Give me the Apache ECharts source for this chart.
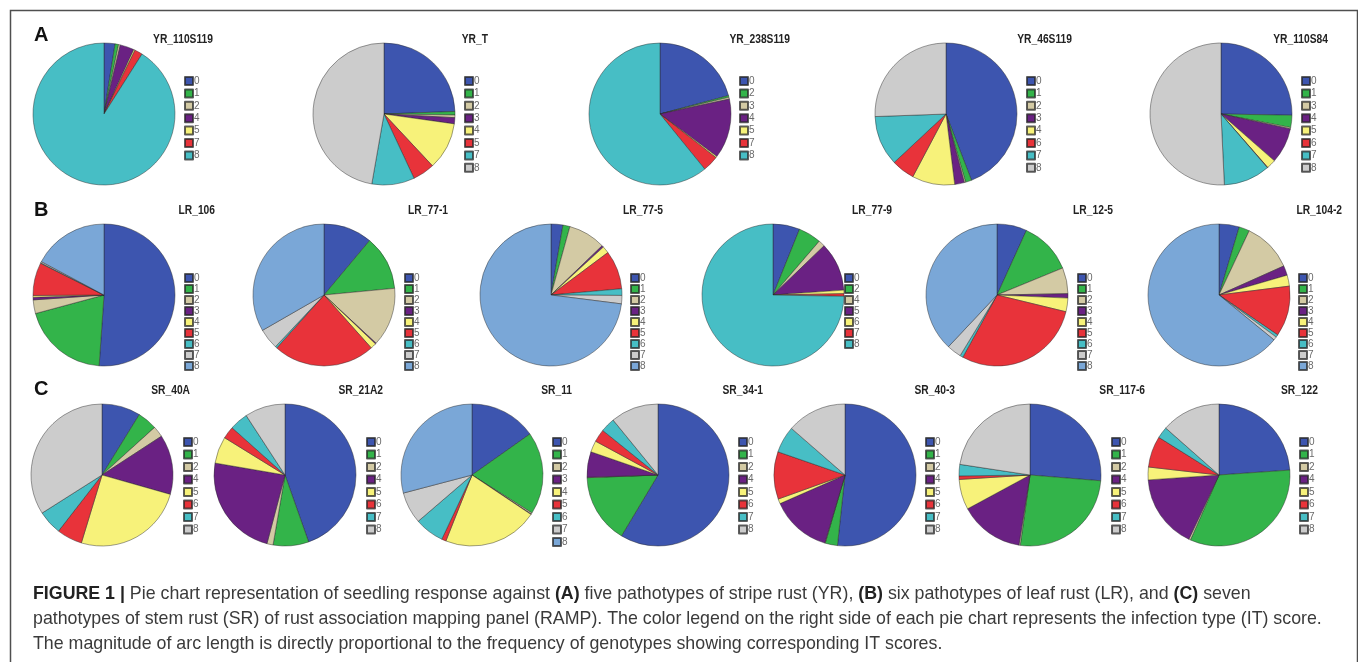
<!DOCTYPE html>
<html>
<head>
<meta charset="utf-8">
<title>Figure 1 - seedling response pie charts</title>
<script src="https://cdn.jsdelivr.net/npm/echarts@6/dist/echarts.min.js"></script>
<style>
  html, body { margin: 0; padding: 0; background: #fff; }
  #chart { width: 1358px; height: 662px; }
</style>
</head>
<body>
<div id="chart"></div>
<script>
// colours follow the position of the score in each legend
const itColors = ['#3D55AF', '#33B44A', '#D3CAA4', '#6A2183', '#F7F27A', '#E8333A', '#47BEC5', '#CCCCCC', '#7AA7D7'];

// (A) stripe rust
const yrNames = ['YR_110S119', 'YR_T', 'YR_238S119', 'YR_46S119', 'YR_110S84'];
const yrScores = [
  ['0', '1', '2', '4', '5', '7', '8'],
  ['0', '1', '2', '3', '4', '5', '7', '8'],
  ['0', '2', '3', '4', '5', '7', '8'],
  ['0', '1', '2', '3', '4', '6', '7', '8'],
  ['0', '1', '3', '4', '5', '6', '7', '8']
];
const yrValues = [
  [2.5, 0.8, 0.4, 3.2, 0.3, 1.8, 91.0],
  [24.4, 0.8, 0.6, 1.4, 10.8, 5.0, 9.7, 47.2],
  [20.8, 0.4, 0.4, 13.6, 0.3, 3.6, 60.8],
  [44.2, 1.4, 0.3, 2.2, 9.7, 5.3, 11.4, 25.6],
  [25.3, 2.8, 0.3, 8.1, 2.1, 0.1, 10.6, 50.8]
];

// (B) leaf rust
const lrNames = ['LR_106', 'LR_77-1', 'LR_77-5', 'LR_77-9', 'LR_12-5', 'LR_104-2'];
const lrScores = [
  ['0', '1', '2', '3', '4', '5', '6', '7', '8'],
  ['0', '1', '2', '3', '4', '5', '6', '7', '8'],
  ['0', '1', '2', '3', '4', '5', '6', '7', '8'],
  ['0', '2', '4', '5', '6', '7', '8'],
  ['0', '1', '2', '3', '4', '5', '6', '7', '8'],
  ['0', '1', '2', '3', '4', '5', '6', '7', '8']
];
const lrValues = [
  [51.1, 19.7, 3.1, 0.6, 0.4, 7.5, 0.1, 0.3, 17.2],
  [11.1, 12.4, 13.4, 0.2, 1.3, 23.2, 0.4, 4.7, 33.3],
  [2.7, 1.6, 8.5, 0.4, 1.6, 8.8, 1.5, 1.9, 73.0],
  [6.1, 5.2, 1.5, 11.1, 0.8, 0.6, 74.7],
  [6.8, 12.0, 5.9, 1.0, 3.1, 29.2, 0.7, 3.3, 38.0],
  [4.6, 2.4, 11.3, 2.2, 2.5, 11.5, 0.6, 0.8, 64.1]
];

// (C) stem rust
const srNames = ['SR_40A', 'SR_21A2', 'SR_11', 'SR_34-1', 'SR_40-3', 'SR_117-6', 'SR_122'];
const srScores = [
  ['0', '1', '2', '4', '5', '6', '7', '8'],
  ['0', '1', '2', '4', '5', '6', '7', '8'],
  ['0', '1', '2', '3', '4', '5', '6', '7', '8'],
  ['0', '1', '2', '4', '5', '6', '7', '8'],
  ['0', '1', '2', '4', '5', '6', '7', '8'],
  ['0', '1', '2', '4', '5', '6', '7', '8'],
  ['0', '1', '2', '4', '5', '6', '7', '8']
];
const srValues = [
  [8.8, 4.5, 2.5, 13.6, 25.3, 5.8, 5.5, 34.0],
  [44.6, 8.1, 1.4, 23.6, 6.1, 2.8, 4.2, 9.2],
  [15.2, 18.8, 0.3, 0.1, 21.6, 1.0, 6.7, 7.2, 29.1],
  [58.6, 15.8, 0.1, 5.8, 2.6, 2.9, 3.3, 10.9],
  [51.7, 2.8, 0.1, 13.8, 1.1, 10.8, 6.1, 13.6],
  [26.3, 25.9, 0.3, 14.6, 6.9, 0.8, 2.6, 22.6],
  [23.9, 32.7, 0.4, 16.9, 2.9, 7.1, 2.6, 13.5]
];

// layout of the three rows (pixels)
const rows = [
  { names: yrNames, scores: yrScores, values: yrValues, cy: 114, titleY: 39, legendY: 80, step: 10.4,
    cx: [104, 384, 660, 946, 1221], titleRight: [213, 488, 790, 1072, 1328], legendX: [188, 468, 743, 1030, 1305] },
  { names: lrNames, scores: lrScores, values: lrValues, cy: 295, titleY: 210, legendY: 277, step: 9,
    cx: [104, 324, 551, 773, 997, 1219], titleRight: [215, 448, 663, 892, 1113, 1342], legendX: [188, 408, 634, 848, 1081, 1302] },
  { names: srNames, scores: srScores, values: srValues, cy: 475, titleY: 390, legendY: 441, step: 10.5,
    cx: [102, 285, 472, 658, 845, 1030, 1219], titleRight: [190, 383, 572, 763, 955, 1145, 1318], legendX: [187, 370, 556, 742, 929, 1115, 1303] }
];
const pieRadius = 71;

const legends = [];
const series = [];
const graphic = [
  { type: 'rect', left: 8, top: 8, silent: true,
    shape: { width: 1347, height: 700 },
    style: { fill: 'none', stroke: '#4f4f4f', lineWidth: 1.5 } },
  { type: 'text', left: 34, top: 25, style: { text: 'A', font: "bold 20px 'Liberation Sans', Arial", fill: '#111' } },
  { type: 'text', left: 34, top: 200, style: { text: 'B', font: "bold 20px 'Liberation Sans', Arial", fill: '#111' } },
  { type: 'text', left: 34, top: 379, style: { text: 'C', font: "bold 20px 'Liberation Sans', Arial", fill: '#111' } }
];

rows.forEach(row => {
  row.names.forEach((name, k) => {
    const keys = row.scores[k].map(s => name + '|' + s);
    // pathotype name, condensed bold like the original figure
    graphic.push({
      type: 'text', x: row.titleRight[k], y: row.titleY, scaleX: 0.76, silent: true,
      style: { text: name, font: "bold 13.5px 'Liberation Sans', Arial", fill: '#222',
        align: 'right', verticalAlign: 'middle' }
    });
    legends.push({
      data: keys,
      orient: 'vertical',
      left: row.legendX[k] - 4,
      top: row.legendY - 4,
      padding: 0,
      itemWidth: 8,
      itemHeight: 8,
      itemGap: row.step - 8,
      icon: 'rect',
      selectedMode: false,
      formatter: n => n.split('|')[1],
      textStyle: { fontSize: 10, lineHeight: 8, color: '#6a6a6a', padding: [0, 0, 0, -4],
        fontFamily: "'Liberation Sans', Arial, sans-serif" }
    });
    series.push({
      type: 'pie',
      center: [row.cx[k], row.cy],
      radius: pieRadius,
      startAngle: 90,
      clockwise: true,
      silent: true,
      avoidLabelOverlap: false,
      label: { show: false },
      labelLine: { show: false },
      emphasis: { disabled: true },
      itemStyle: { borderColor: 'rgba(40,40,40,0.75)', borderWidth: 0.6 },
      data: row.values[k].map((v, i) => ({ name: keys[i], value: v, itemStyle: { color: itColors[i] } }))
    });
  });
});

const capFont = "'Liberation Sans', Arial, sans-serif";
const capSize = 17.8;
const capRich = {
  n: { fontSize: capSize, fontFamily: capFont, fill: '#3a3a3a' },
  b: { fontSize: capSize, fontFamily: capFont, fill: '#222', fontWeight: 'bold' }
};
const captionLines = [
  '{b|FIGURE 1 |}{n| Pie chart representation of seedling response against }{b|(A)}{n| five pathotypes of stripe rust (YR), }{b|(B)}{n| six pathotypes of leaf rust (LR), and }{b|(C)}{n| seven}',
  '{n|pathotypes of stem rust (SR) of rust association mapping panel (RAMP). The color legend on the right side of each pie chart represents the infection type (IT) score.}',
  '{n|The magnitude of arc length is directly proportional to the frequency of genotypes showing corresponding IT scores.}'
];
const captionY = [594, 619, 644];

captionLines.forEach((t, i) => {
  graphic.push({ type: 'text', x: 33, y: captionY[i], silent: true,
    style: { text: t, rich: capRich, fill: '#3a3a3a', fontSize: capSize, fontFamily: capFont,
      align: 'left', verticalAlign: 'middle' } });
});

const chart = echarts.init(document.getElementById('chart'));
chart.setOption({
  animation: false,
  backgroundColor: '#fff',
  legend: legends,
  series: series,
  graphic: graphic
});
</script>
</body>
</html>
